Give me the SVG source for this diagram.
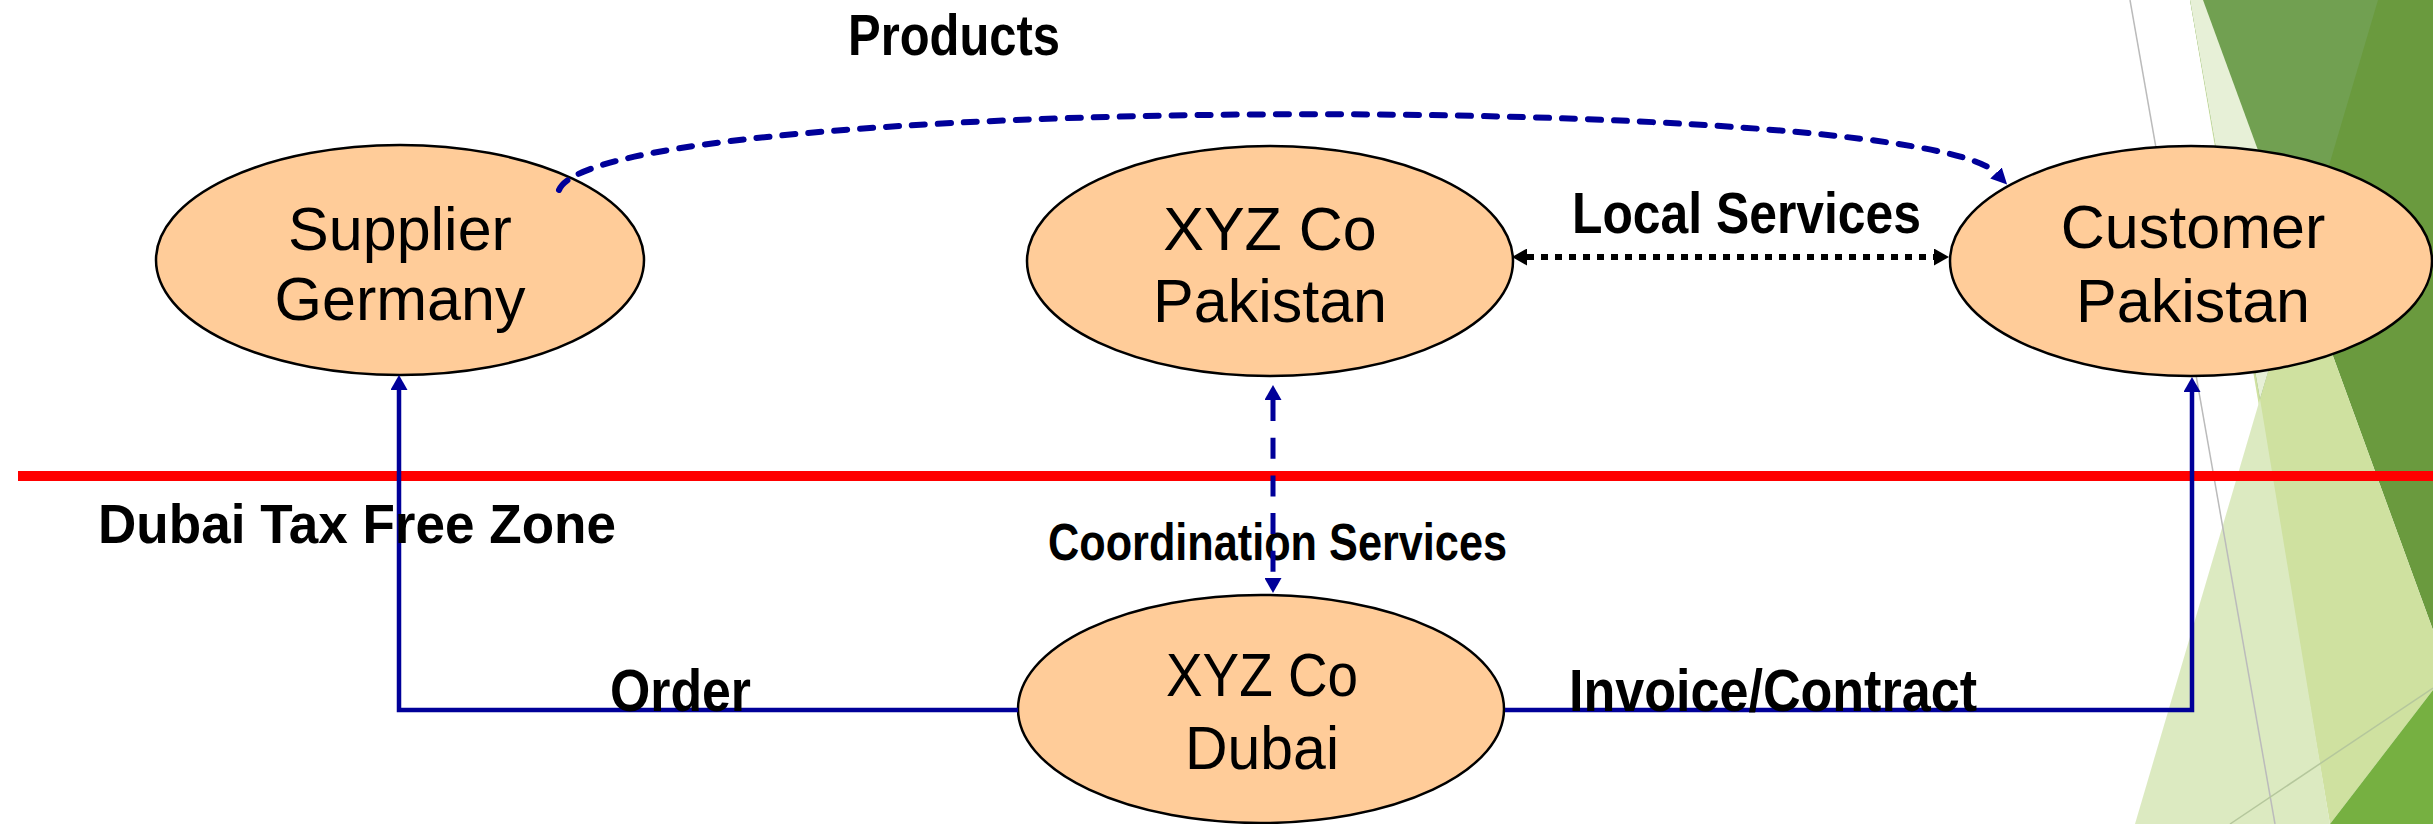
<svg xmlns="http://www.w3.org/2000/svg" width="2433" height="824" viewBox="0 0 2433 824">
<style>
.node ellipse{fill:#FFCC99;stroke:#000;stroke-width:2.5}
.nt{font-family:"Liberation Sans",Arial,sans-serif;font-size:61px;fill:#000;text-anchor:middle}
.lbl{font-family:"Liberation Sans",Arial,sans-serif;font-weight:bold;fill:#000}
.blue{fill:none;stroke:#000099;stroke-width:4.5}
</style>
<defs>
<marker id="arrB" viewBox="0 0 15 17" markerWidth="15" markerHeight="17" refX="0" refY="8.5" markerUnits="userSpaceOnUse" orient="auto-start-reverse"><path d="M0,0 L15,8.5 L0,17 Z" fill="#000099"/></marker>
<marker id="arrK" viewBox="0 0 15 17" markerWidth="15" markerHeight="17" refX="0" refY="8.5" markerUnits="userSpaceOnUse" orient="auto-start-reverse"><path d="M0,0 L15,8.5 L0,17 Z" fill="#000"/></marker>
<marker id="arrC" viewBox="0 0 16 16" markerWidth="16" markerHeight="16" refX="0" refY="8" markerUnits="userSpaceOnUse" orient="auto"><path d="M0,0 L16,8 L0,16 Z" fill="#000099"/></marker>
</defs>
<rect width="2433" height="824" fill="#fff"/>
<g id="decoration">
<polygon points="2203,0 2433,0 2433,630" fill="#6A9A3E"/>
<polygon points="2190,0 2203,0 2433,630 2433,690 2330,824" fill="#CFE1A0"/>
<polygon points="2190,0 2378,0 2260,399" fill="#71A051"/>
<polygon points="2190,0 2203,0 2300,265 2260,399" fill="#E7F0D7"/>
<polygon points="2260,399 2135,824 2330,824" fill="#DCEAC1"/>
<polygon points="2330,824 2433,690 2433,824" fill="#76B041"/>
<line x1="2130" y1="0" x2="2275" y2="824" stroke="#BBBBBB" stroke-width="1.5"/>
<line x1="2230" y1="824" x2="2433" y2="688" stroke="#B5C79C" stroke-width="1.5"/>
</g>
<line id="zone-line" x1="18" y1="476" x2="2433" y2="476" stroke="#FF0000" stroke-width="10"/>
<g id="supplier" class="node">
<ellipse cx="400" cy="260" rx="244" ry="115"/>
<text class="nt" x="400" y="250">Supplier</text>
<text class="nt" x="400" y="320">Germany</text>
</g>
<g id="xyz-pakistan" class="node">
<ellipse cx="1270" cy="261" rx="243" ry="115"/>
<text class="nt" x="1270" y="250">XYZ Co</text>
<text class="nt" x="1270" y="322">Pakistan</text>
</g>
<g id="customer" class="node">
<ellipse cx="2191" cy="261" rx="241" ry="115"/>
<text class="nt" x="2193" y="248">Customer</text>
<text class="nt" x="2193" y="322">Pakistan</text>
</g>
<g id="xyz-dubai" class="node">
<ellipse cx="1261" cy="709" rx="243" ry="114"/>
<text class="nt" x="1262" y="696" textLength="192" lengthAdjust="spacingAndGlyphs">XYZ Co</text>
<text class="nt" x="1262" y="769" textLength="154" lengthAdjust="spacingAndGlyphs">Dubai</text>
</g>
<g id="connectors">
<path class="blue" d="M1018,710 H399 V390" marker-end="url(#arrB)"/>
<path class="blue" d="M1505,710 H2192 V392" marker-end="url(#arrB)"/>
<path d="M1527,257 H1934" fill="none" stroke="#000" stroke-width="6" stroke-dasharray="7 7" marker-start="url(#arrK)" marker-end="url(#arrK)"/>
<path d="M559,190 C600,92 1918,92 1996,173" fill="none" stroke="#000099" stroke-width="6" stroke-linecap="round" stroke-dasharray="13 13" marker-end="url(#arrC)"/>
</g>
<g id="labels">
<text class="lbl" x="848" y="55" font-size="58" textLength="212" lengthAdjust="spacingAndGlyphs">Products</text>
<text class="lbl" x="1572" y="233" font-size="58" textLength="349" lengthAdjust="spacingAndGlyphs">Local Services</text>
<text class="lbl" x="98" y="543" font-size="56" textLength="518" lengthAdjust="spacingAndGlyphs">Dubai Tax Free Zone</text>
<text class="lbl" x="1048" y="560" font-size="52" textLength="459" lengthAdjust="spacingAndGlyphs">Coordination Services</text>
<text class="lbl" x="610" y="711" font-size="60" textLength="141" lengthAdjust="spacingAndGlyphs">Order</text>
<text class="lbl" x="1569" y="711" font-size="60" textLength="408" lengthAdjust="spacingAndGlyphs">Invoice/Contract</text>
</g>
<g id="coordination-connector">
<path d="M1273,400 V578" fill="none" stroke="#000099" stroke-width="5" stroke-dasharray="21 16.7" marker-start="url(#arrB)" marker-end="url(#arrB)"/>
</g>
</svg>
